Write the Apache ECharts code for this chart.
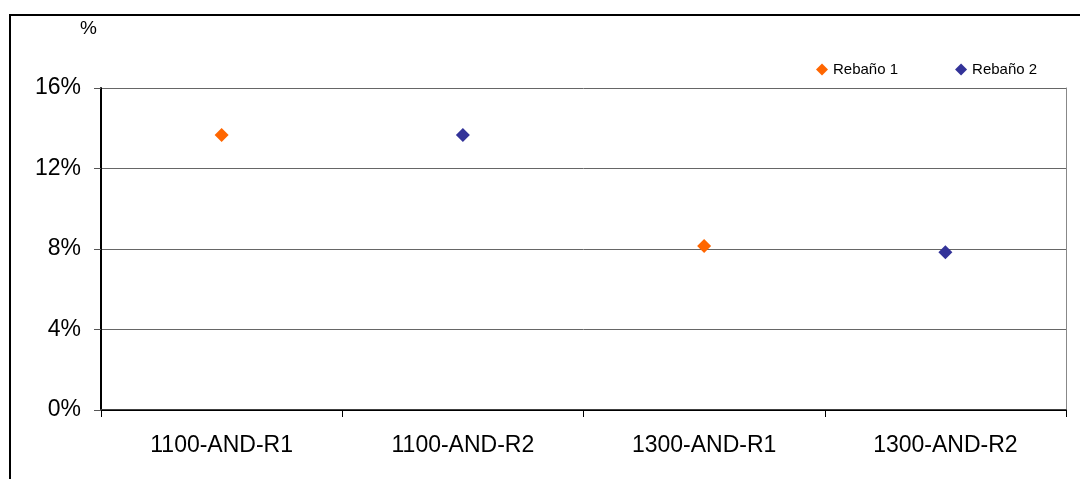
<!DOCTYPE html>
<html>
<head>
<meta charset="utf-8">
<script src="https://cdn.jsdelivr.net/npm/echarts@6/dist/echarts.min.js"></script>
<style>
html,body{margin:0;padding:0;background:#fff;}
#c{width:1080px;height:479px;}
</style>
</head>
<body>
<div id="c"></div>
<script>
const categories = ['1100-AND-R1', '1100-AND-R2', '1300-AND-R1', '1300-AND-R2'];
const seriesNames = ['Rebaño 1', 'Rebaño 2'];
const rebano1 = [13.66, '-', 8.15, '-'];
const rebano2 = ['-', 13.66, '-', 7.84];
const yTicks = { min: 0, max: 16, interval: 4 };
const yUnitLabel = '%';

const FONT = '"Liberation Sans", Arial, sans-serif';
const chart = echarts.init(document.getElementById('c'), null, { renderer: 'canvas' });
chart.setOption({
  animation: false,
  backgroundColor: '#fff',
  textStyle: { fontFamily: FONT },
  grid: { left: 101, right: 14, top: 88, bottom: 69, containLabel: false },
  legend: {
    data: seriesNames,
    left: 811, top: 57,
    itemWidth: 12, itemHeight: 12, itemGap: 57,
    icon: 'diamond',
    textStyle: { fontFamily: FONT, fontSize: 15, color: '#000' }
  },
  graphic: [
    { type: 'line', shape: { x1: 10, y1: 15, x2: 1080, y2: 15 }, style: { stroke: '#000', lineWidth: 2 } },
    { type: 'line', shape: { x1: 10, y1: 14, x2: 10, y2: 479 }, style: { stroke: '#000', lineWidth: 2 } },
    { type: 'text', left: 80, top: 19, style: { text: yUnitLabel, font: '19px ' + FONT, fill: '#000' } }
  ],
  xAxis: [{
    type: 'category',
    data: categories,
    boundaryGap: true,
    axisLine: { lineStyle: { color: '#404040', width: 2 } },
    axisTick: { show: true, length: 7, lineStyle: { color: '#000', width: 1 } },
    axisLabel: { fontFamily: FONT, fontSize: 23, color: '#000', margin: 24 },
    splitLine: { show: false }
  }, {
    type: 'category',
    position: 'top',
    data: categories,
    axisLine: { lineStyle: { color: '#000', width: 1 } },
    axisTick: { show: false },
    axisLabel: { show: false }
  }],
  yAxis: [{
    type: 'value',
    min: yTicks.min, max: yTicks.max, interval: yTicks.interval,
    axisLine: { show: true, lineStyle: { color: '#000', width: 2 } },
    axisTick: { show: true, length: 7, lineStyle: { color: '#555', width: 1 } },
    axisLabel: { fontFamily: FONT, fontSize: 23, color: '#000', margin: 20, formatter: '{value}%' },
    splitLine: { show: true, lineStyle: { color: '#666', width: 1 } }
  }, {
    type: 'value',
    position: 'right',
    min: yTicks.min, max: yTicks.max, interval: yTicks.interval,
    axisLine: { show: true, lineStyle: { color: '#888', width: 1 } },
    axisTick: { show: false },
    axisLabel: { show: false },
    splitLine: { show: false }
  }],
  series: [{
    name: seriesNames[0],
    type: 'scatter',
    symbol: 'diamond',
    symbolSize: 14,
    itemStyle: { color: '#FF6600', opacity: 1 },
    data: rebano1
  }, {
    name: seriesNames[1],
    type: 'scatter',
    symbol: 'diamond',
    symbolSize: 14,
    itemStyle: { color: '#333399', opacity: 1 },
    data: rebano2
  }]
});
</script>
</body>
</html>
